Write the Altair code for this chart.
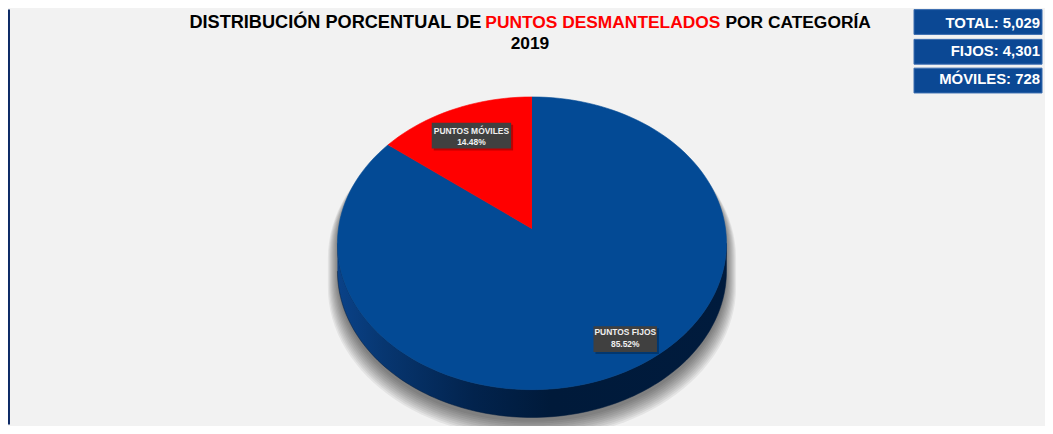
import altair as alt
import numpy as np
import pandas as pd

# ---------------- data ----------------
categories = ["PUNTOS FIJOS", "PUNTOS MÓVILES"]
counts = [4301, 728]
percent_labels = ["85.52%", "14.48%"]
slice_colors = ["#034a95", "#ff0000"]
title_parts = ["DISTRIBUCIÓN PORCENTUAL DE", "PUNTOS DESMANTELADOS", "POR CATEGORÍA"]
title_year = ["2019"]
summary_labels = ["TOTAL: 5,029", "FIJOS: 4,301", "MÓVILES: 728"]

# ---------------- geometry derived from the values ----------------
total = sum(counts)
fracs = [c / total for c in counts]
DEPTH = 0.19      # pie thickness in unit radii (vertical)
PERSP = 0.10      # perspective: projected centre of the pie moves up
STEPS = 160


def persp(x, y, c=PERSP):
    """projective map keeping the unit circle, moving the centre to (0, c)"""
    d = 1 + c * y
    return x * np.sqrt(1 - c * c) / d, (y + c) / d


rows = []
start = 0.0
for cat, f in zip(categories, fracs):
    n = max(6, int(STEPS * f))
    pts = [persp(0.0, 0.0)]
    for t in np.linspace(start, start + f, n + 1):
        th = np.pi / 2 - 2 * np.pi * t          # clockwise from 12 o'clock
        pts.append(persp(np.cos(th), np.sin(th)))
    for i, (x, y) in enumerate(pts):
        rows.append({"slice": cat, "i": i, "x": x, "y": y})
    start += f
pie_df = pd.DataFrame(rows)

# side band (front half of the cylinder)
side = []
ths = np.linspace(np.pi, 2 * np.pi, 121)
for th in ths:
    side.append((np.cos(th), np.sin(th)))
for th in ths[::-1]:
    side.append((np.cos(th), np.sin(th) - DEPTH))
side_df = pd.DataFrame([{"i": i, "x": x, "y": y} for i, (x, y) in enumerate(side)])

# soft shadow: several expanded silhouettes
shadow_rows = []
for k in range(10):
    sx = 1.0 + 0.0055 * k
    sy = 1.0 + 0.004 * k
    dy = -0.03 - 0.008 * k
    sil = []
    for th in np.linspace(0, np.pi, 61):
        sil.append((np.cos(th), np.sin(th)))
    for th in np.linspace(np.pi, 2 * np.pi, 61):
        sil.append((np.cos(th), np.sin(th) - DEPTH))
    for i, (x, y) in enumerate(sil):
        shadow_rows.append({"k": k, "i": i, "x": x * sx, "y": y * sy + dy})
shadow_df = pd.DataFrame(shadow_rows)

# ---------------- scales ----------------
xs = alt.Scale(domain=[-1, 1], range=[332, 724], zero=False, nice=False)
ys = alt.Scale(domain=[-1, 1], range=[383, 88], zero=False, nice=False)
X = alt.X("x:Q", scale=xs, axis=None)
Y = alt.Y("y:Q", scale=ys, axis=None)

shadow = alt.Chart(shadow_df).mark_line(
    fill="#000000", fillOpacity=0.06, strokeWidth=0, interpolate="linear"
).encode(x=X, y=Y, detail="k:N", order="i:Q")

side_grad = alt.LinearGradient(
    gradient="linear",
    x1=0, x2=1, y1=0, y2=0,
    stops=[
        alt.GradientStop(color="#0a4288", offset=0.0),
        alt.GradientStop(color="#073670", offset=0.12),
        alt.GradientStop(color="#02234d", offset=0.35),
        alt.GradientStop(color="#001a3a", offset=0.55),
        alt.GradientStop(color="#001b3d", offset=1.0),
    ],
)
side_layer = alt.Chart(side_df).mark_line(
    fill=side_grad, stroke="#001b3d", strokeWidth=0.5
).encode(x=X, y=Y, order="i:Q")

color_scale = alt.Scale(domain=categories, range=slice_colors)
top = alt.Chart(pie_df).mark_line(strokeWidth=0.6).encode(
    x=X, y=Y,
    fill=alt.Fill("slice:N", scale=color_scale, legend=None),
    stroke=alt.Stroke("slice:N", scale=color_scale, legend=None),
    order="i:Q",
)

# ---------------- labels on the pie ----------------
def label_box(name, x0, x1, y0, y1, cx, yb1, yb2):
    idx = categories.index(name)
    d = pd.DataFrame({"cat": [name], "pct": [percent_labels[idx]]})
    base = alt.Chart(d)
    shade = base.mark_rect(color="#000000", opacity=0.25).encode(
        x=alt.value(x0 + 2), x2=alt.value(x1 + 2), y=alt.value(y0 + 2), y2=alt.value(y1 + 2))
    box = base.mark_rect(color="#404040").encode(
        x=alt.value(x0), x2=alt.value(x1), y=alt.value(y0), y2=alt.value(y1))
    t1 = base.mark_text(font="Liberation Sans", fontSize=8.5, fontWeight="bold",
                        color="#f0f0f0", align="center", baseline="alphabetic").encode(
        x=alt.value(cx), y=alt.value(yb1), text="cat:N")
    t2 = base.mark_text(font="Liberation Sans", fontSize=8.5, fontWeight="bold",
                        color="#f0f0f0", align="center", baseline="alphabetic").encode(
        x=alt.value(cx), y=alt.value(yb2), text="pct:N")
    return [shade, box, t1, t2]

lab_mov = label_box("PUNTOS MÓVILES", 427, 507, 114, 140, 467, 125, 136)
lab_fij = label_box("PUNTOS FIJOS", 590, 654, 319, 345, 622, 328, 340)

# ---------------- title ----------------
tdf = pd.DataFrame({"t": title_parts})
def title_seg(i, x, align, color, size):
    return alt.Chart(tdf).transform_filter(alt.datum.t == title_parts[i]).mark_text(
        font="Liberation Sans", fontSize=size, fontWeight="bold", color=color,
        align=align, baseline="alphabetic").encode(
        x=alt.value(x), y=alt.value(19), text="t:N")

t_left = title_seg(0, 477, "right", "#000000", 18.3)
t_mid = title_seg(1, 481, "left", "#ff0000", 17.5)
t_right = title_seg(2, 723, "left", "#000000", 17.5)
t_year = alt.Chart(pd.DataFrame({"t": title_year})).mark_text(
    font="Liberation Sans", fontSize=17.5, fontWeight="bold", color="#000000",
    align="center", baseline="alphabetic").encode(
    x=alt.value(526), y=alt.value(40), text="t:N")

# ---------------- frame line on the left ----------------
frame = alt.Chart(tdf).transform_filter(alt.datum.t == title_parts[0]).mark_rect(
    color="#0d2a66").encode(x=alt.value(0), x2=alt.value(2), y=alt.value(0), y2=alt.value(418))

# ---------------- summary boxes ----------------
sdf = pd.DataFrame({"s": summary_labels})
box_layers = []
for i, (y0, y1, yb) in enumerate([(0, 25, 19), (30, 55, 47), (59, 84, 75)]):
    b = alt.Chart(sdf).transform_filter(alt.datum.s == summary_labels[i])
    box_layers.append(b.mark_rect(color="#0b4894", stroke="#3a6db0", strokeWidth=1).encode(
        x=alt.value(913), x2=alt.value(1042), y=alt.value(y0), y2=alt.value(y1)))
    box_layers.append(b.mark_text(font="Liberation Sans", fontSize=15, fontWeight="bold",
                                  color="#ffffff", align="right", baseline="alphabetic").encode(
        x=alt.value(1040), y=alt.value(yb), text="s:N"))

chart = alt.layer(
    frame, shadow, side_layer, top, *lab_mov, *lab_fij,
    t_left, t_mid, t_right, t_year, *box_layers
).properties(
    width=1045, height=418,
    background="#f2f2f2",
    padding=0,
    autosize=alt.AutoSizeParams(type="none"),
).configure_view(stroke=None)

chart.save("out.html", embed_options={"renderer": "svg", "actions": False})
